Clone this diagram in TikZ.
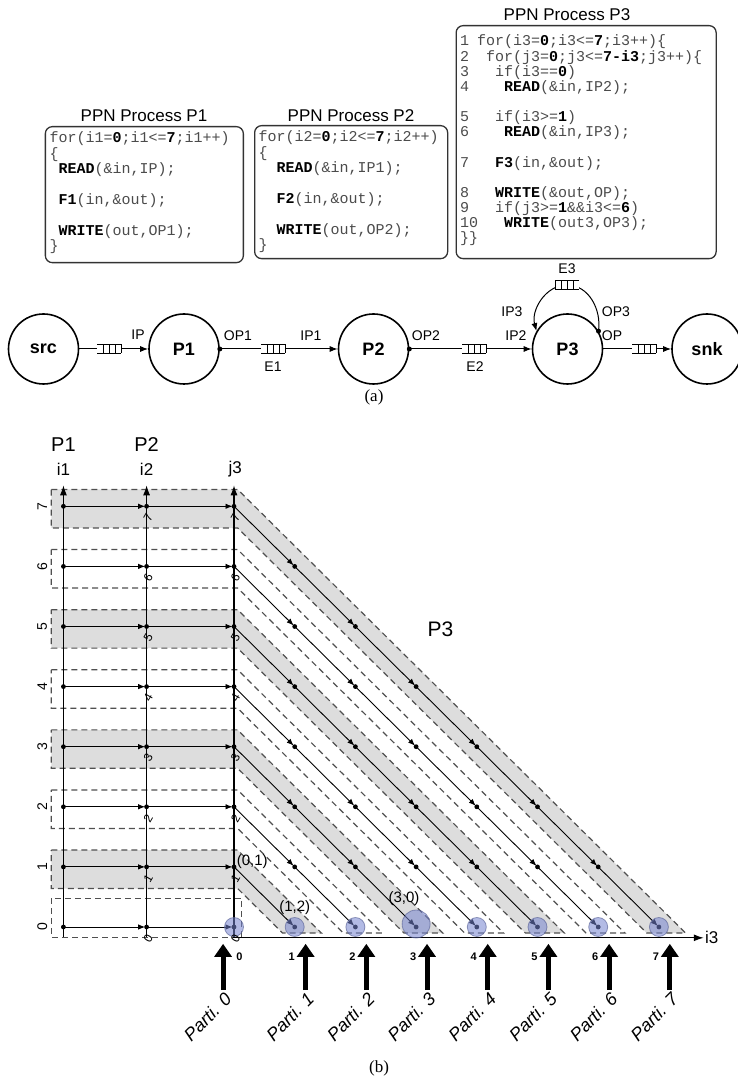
\documentclass[tikz,border=0pt]{standalone}
\usepackage{fontspec}
\setmainfont{Liberation Sans}
\newfontfamily\codefont{Liberation Mono}
\newfontfamily\capfont{Liberation Serif}
\usetikzlibrary{arrows.meta}

\definecolor{bandgray}{RGB}{221,221,221}
\definecolor{dashgray}{RGB}{80,80,80}
\definecolor{partblue}{RGB}{118,132,208}
\definecolor{codegray}{RGB}{75,75,75}
\newcommand{\kw}[1]{{\bfseries\color{black}#1}}

\tikzset{
  proc/.style={circle, draw, line width=1.6pt, minimum size=70pt, inner sep=0pt,
    font=\fontsize{18}{18}\selectfont\bfseries},
  port/.style={inner sep=1pt, font=\fontsize{14}{14}\selectfont},
  flow/.style={line width=1pt, -{Latex[length=8pt,width=6pt]}},
  codebox/.style={draw=black!80, line width=1.3pt, rounded corners=7pt, anchor=north west, inner sep=0pt},
  title/.style={font=\fontsize{17}{17}\selectfont},
  code/.style={anchor=base west, inner sep=0pt, text=codegray, text height=9.5pt, text depth=2.5pt,
    font=\codefont\fontsize{15}{15}\selectfont},
  band/.style={draw=dashgray, line width=1.2pt, dash pattern=on 6pt off 4pt},
  axis/.style={line width=1.3pt},
  harr/.style={line width=0.9pt, -{Latex[length=7pt,width=5.5pt]}, shorten >=1.5pt},
  hot/.style={fill=partblue, fill opacity=0.55, draw=partblue!70!black, draw opacity=0.6, line width=0.8pt},
  parrow/.style={line width=5pt, -{Triangle[length=13pt,width=17pt]}},
  fifo/.pic={
    \fill[white] (-12,-4.5) rectangle (12,4.5);
    \draw[line width=1pt] (-12,4.5) -- (12,4.5) (-12,-4.5) -- (12,-4.5)
      (-6,4.5) -- (-6,-4.5) (0,4.5) -- (0,-4.5) (6,4.5) -- (6,-4.5) (12,4.5) -- (12,-4.5);
  }
}

\begin{document}
\begin{tikzpicture}[x=1pt,y=1pt]
\useasboundingbox (0,0) rectangle (737,1080);

% (a) the three processes
\node[codebox, minimum width=198pt, minimum height=136pt] (box1) at (44.7,954) {};
\node[codebox, minimum width=193pt, minimum height=133pt] (box2) at (254,955) {};
\node[codebox, minimum width=260pt, minimum height=233pt] (box3) at (455.5,1055) {};
\node[title] (t1) at (144,964) {PPN Process P1};
\node[title] (t2) at (351,964) {PPN Process P2};
\node[title] (t3) at (567,1065) {PPN Process P3};

\foreach \rw/\nn/\txt in {0/0/{for(i1=\kw{0};i1<=\kw{7};i1++)}, 1/0/{\{},
    2/1/{\kw{READ}(\&in,IP);}, 4/1/{\kw{F1}(in,\&out);}, 6/1/{\kw{WRITE}(out,OP1);}, 7/0/{\}}}
  \node[code] (c1-\rw) at ({49.5+9*\nn},{937-15.4*\rw}) {\txt};

\foreach \rw/\nn/\txt in {0/0/{for(i2=\kw{0};i2<=\kw{7};i2++)}, 1/0/{\{},
    2/2/{\kw{READ}(\&in,IP1);}, 4/2/{\kw{F2}(in,\&out);}, 6/2/{\kw{WRITE}(out,OP2);}, 7/0/{\}}}
  \node[code] (c2-\rw) at ({258.5+9*\nn},{938-15.4*\rw}) {\txt};

\foreach \rw/\lno/\nn/\txt in {0/1/0/{for(i3=\kw{0};i3<=\kw{7};i3++)\{},
    1/2/1/{for(j3=\kw{0};j3<=\kw{7-i3};j3++)\{}, 2/3/2/{if(i3==\kw{0})},
    3/4/3/{\kw{READ}(\&in,IP2);}, 5/5/2/{if(i3>=\kw{1})}, 6/6/3/{\kw{READ}(\&in,IP3);},
    8/7/2/{\kw{F3}(in,\&out);}, 10/8/2/{\kw{WRITE}(\&out,OP);},
    11/9/2/{if(j3>=\kw{1}\&\&i3<=\kw{6})}, 12/10/3/{\kw{WRITE}(out3,OP3);}} {
  \node[code] (n3-\rw) at (460,{1034-15.13*\rw}) {\lno};
  \node[code] (c3-\rw) at ({477+9*\nn},{1034-15.13*\rw}) {\txt};
}
\node[code] (c3-13) at (460,{1034-15.13*13}) {\}\}};

% (a) process network
\node[proc] (src) at (43.5,731) {src};
\node[proc] (P1) at (184,731) {P1};
\node[proc] (P2) at (373.5,731) {P2};
\node[proc] (P3) at (567.5,731) {P3};
\node[proc] (snk) at (707,731) {snk};
\coordinate (e3) at (567,795);

\draw[flow] (src) -- (P1);
\draw[flow] (P1) -- (P2);
\draw[flow] (P2) -- (P3);
\draw[flow] (P3) -- (snk);
\draw[flow] (P3.30) to[out=82,in=0] (e3) to[out=180,in=105] (P3.150);
\fill (P1.east) circle (2.5pt) (P2.east) circle (2.5pt) (P3.30) circle (2.5pt);

\pic at (109,731) {fifo};
\pic at (273,731) {fifo};
\pic at (474,731) {fifo};
\pic at (644,731) {fifo};
\pic[xscale=-1] at (e3) {fifo};

\node[port] (lIP) at (138,745) {IP};
\node[port] (lOP1) at (238,744) {OP1};
\node[port] (lE1) at (273,713) {E1};
\node[port] (lIP1) at (311,744) {IP1};
\node[port] (lOP2) at (426,744) {OP2};
\node[port] (lE2) at (475,713) {E2};
\node[port] (lIP2) at (516,744) {IP2};
\node[port] (lOP) at (612,744) {OP};
\node[port] (lIP3) at (512,768) {IP3};
\node[port] (lOP3) at (616,768) {OP3};
\node[port] (lE3) at (567,811) {E3};
\node[font=\capfont\fontsize{17}{17}\selectfont] (capa) at (374,683) {(a)};

% (b) iteration domains, one unit per iteration
\begin{scope}[shift={(234,153)}, x=60.7pt, y=60.1pt]
\draw[band] (-3.01,0.48) rectangle (0.13,-0.17);
\foreach \k in {1,...,7} {
  \ifodd\k \def\bandfill{bandgray}\else \def\bandfill{white}\fi
  \filldraw[band, fill=\bandfill] (-3.01,\k+0.28) -- (0.06,\k+0.28) -- (\k+0.44,-0.1)
    -- (\k-0.2,-0.1) -- (0.06,\k-0.36) -- (-3.01,\k-0.36) -- cycle;
}

\foreach \j in {0,...,7} {
  \coordinate (a1-\j) at (-2.81,\j);
  \coordinate (a2-\j) at (-1.44,\j);
}
\foreach \i in {0,...,7} {
  \pgfmathtruncatemacro\m{7-\i}
  \foreach \j in {0,...,\m} \coordinate (q-\i-\j) at (\i,\j);
}
\coordinate (o) at (0,-0.18);
\coordinate (j3tip) at (0,7.35);
\coordinate (i3tip) at (7.74,-0.18);
\coordinate (i1bot) at (-2.81,-0.17);
\coordinate (i1tip) at (-2.81,7.35);
\coordinate (i2bot) at (-1.44,-0.17);
\coordinate (i2tip) at (-1.44,7.35);

\draw[axis, {Latex[length=10pt,width=7pt]}-{Latex[length=10pt,width=7pt]}] (j3tip) -- (o) -- (i3tip);
\draw[axis, -{Latex[length=10pt,width=7pt]}] (i1bot) -- (i1tip);
\draw[axis, -{Latex[length=10pt,width=7pt]}] (i2bot) -- (i2tip);

\foreach \j in {0,...,7} {
  \draw[harr] (a1-\j) -- (a2-\j);
  \draw[harr] (a2-\j) -- (q-0-\j);
  \fill (a1-\j) circle (2.4pt) (a2-\j) circle (2.4pt);
}
\foreach \k in {1,...,7}
  \foreach \i in {1,...,\k} {
    \pgfmathtruncatemacro\pa{\i-1}
    \pgfmathtruncatemacro\pb{\k-\i+1}
    \pgfmathtruncatemacro\pc{\k-\i}
    \draw[harr] (q-\pa-\pb) -- (q-\i-\pc);
  }
\foreach \i in {0,...,7} {
  \pgfmathtruncatemacro\m{7-\i}
  \foreach \j in {0,...,\m} \fill (q-\i-\j) circle (2.4pt);
}

\foreach \i in {0,1,2,4,5,6,7} \filldraw[hot] (q-\i-0) circle (9.5pt);
\filldraw[hot] (3,0.05) circle (14pt);

% labels
\node[font=\fontsize{20}{20}\selectfont] (hP1) at (-2.81,8.02) {P1};
\node[font=\fontsize{20}{20}\selectfont] (hP2) at (-1.44,8.02) {P2};
\node[font=\fontsize{17}{17}\selectfont] (li1) at (-2.81,7.62) {i1};
\node[font=\fontsize{17}{17}\selectfont] (li2) at (-1.44,7.62) {i2};
\node[font=\fontsize{17}{17}\selectfont] (lj3) at (0.02,7.62) {j3};
\node[font=\fontsize{17}{17}\selectfont, anchor=west, inner sep=1pt] (li3) at (i3tip) {i3};
\node[font=\fontsize{21}{21}\selectfont] (hP3) at (3.4,4.95) {P3};
\node[font=\fontsize{15}{15}\selectfont] (l01) at (0.3,1.08) {(0,1)};
\node[font=\fontsize{15}{15}\selectfont] (l12) at (1.0,0.32) {(1,2)};
\node[font=\fontsize{15}{15}\selectfont] (l30) at (2.8,0.48) {(3,0)};

\foreach \j in {0,...,7} {
  \node[rotate=90, font=\fontsize{14}{14}\selectfont] (r1-\j) at (-3.16,\j) {\j};
  \node[rotate=60, inner sep=0pt, font=\fontsize{12}{12}\selectfont, xshift=-9pt, yshift=-7pt] (r2-\j) at (a2-\j) {\j};
  \node[rotate=60, inner sep=0pt, font=\fontsize{12}{12}\selectfont, xshift=-9pt, yshift=-7pt] (r3-\j) at (q-0-\j) {\j};
}

% partitions
\coordinate (pb0) at (-0.18,-1.05);
\coordinate (pt0) at (-0.18,-0.28);
\foreach \i in {1,...,7} {
  \coordinate (pb\i) at (\i+0.18,-1.05);
  \coordinate (pt\i) at (\i+0.18,-0.28);
}
\foreach \i in {0,...,7} {
  \draw[parrow] (pb\i) -- (pt\i);
  \node[rotate=45, anchor=east, inner sep=1pt, font=\fontsize{18}{18}\selectfont\itshape] (pl\i) at ([xshift=6pt,yshift=-5pt]pb\i) {Parti. \i};
}
\node[font=\fontsize{11}{11}\selectfont\bfseries] (x0) at (0.09,-0.5) {0};
\foreach \i in {1,...,7}
  \node[font=\fontsize{11}{11}\selectfont\bfseries] (x\i) at (\i-0.05,-0.5) {\i};
\end{scope}

\node[font=\capfont\fontsize{17}{17}\selectfont] (capb) at (379,12) {(b)};
\end{tikzpicture}
\end{document}
